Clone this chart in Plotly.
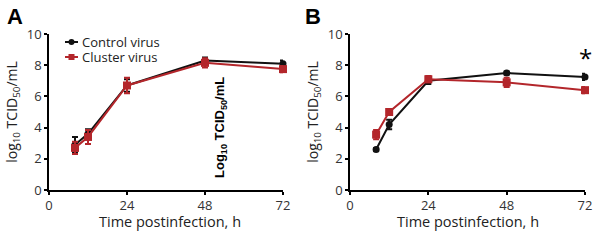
import plotly.graph_objects as go

hours = [8, 12, 24, 48, 72]

a_control = [2.9, 3.6, 6.7, 8.3, 8.1]
a_control_err = [0.5, 0.3, 0.4, 0.2, 0.2]
a_cluster = [2.7, 3.4, 6.7, 8.15, 7.75]
a_cluster_err = [0.4, 0.45, 0.5, 0.3, 0.2]

b_control = [2.6, 4.2, 7.0, 7.5, 7.25]
b_control_err = [0.1, 0.3, 0.2, 0.1, 0.2]
b_cluster = [3.55, 5.0, 7.1, 6.9, 6.4]
b_cluster_err = [0.3, 0.2, 0.2, 0.3, 0.2]

x_ticks = [0, 24, 48, 72]
y_ticks = [0, 2, 4, 6, 8, 10]

series_names = ["Control virus", "Cluster virus"]

BLACK = "#111111"
RED = "#b3262b"
FONT = "Open Sans, Liberation Sans, sans-serif"

fig = go.Figure()

def add(x, y, err, color, symbol, size, name, xa, ya):
    fig.add_trace(go.Scatter(
        x=x, y=y, mode="lines+markers", name=name,
        line=dict(color=color, width=2),
        marker=dict(color=color, symbol=symbol, size=size),
        error_y=dict(type="data", array=err, color=color, thickness=2, width=3),
        xaxis=xa, yaxis=ya, showlegend=False, cliponaxis=False))

add(hours, a_control, a_control_err, BLACK, "circle", 7, series_names[0], "x", "y")
add(hours, a_cluster, a_cluster_err, RED, "square", 8, series_names[1], "x", "y")
add(hours, b_control, b_control_err, BLACK, "circle", 7, series_names[0], "x2", "y2")
add(hours, b_cluster, b_cluster_err, RED, "square", 8, series_names[1], "x2", "y2")

ax_common = dict(showgrid=False, zeroline=False, showline=True, linecolor="black", linewidth=1.5,
                 ticks="outside", ticklen=3, tickwidth=1.5, tickcolor="black", automargin=False,
                 tickfont=dict(size=13, color="#333333", family=FONT))

ytitle = "log<sub>10</sub> TCID<sub>50</sub>/mL"
xtitle = "Time postinfection, h"

L, R, T, B = 49, 15, 34, 50
PW = 600 - L - R
PH = 240 - T - B


def px(xp):
    return (xp - L) / PW


def py(yp):
    return 1 - (yp - T) / PH


fig.update_layout(
    width=600, height=240,
    margin=dict(l=L, r=R, t=T, b=B, autoexpand=False),
    paper_bgcolor="white", plot_bgcolor="white",
    font=dict(family=FONT, color="#222222"),
    xaxis=dict(domain=[0, 234/PW], range=[0, 72], tickvals=x_ticks, anchor="y", **ax_common),
    yaxis=dict(domain=[0, 1], range=[0, 10], tickvals=y_ticks, anchor="x",
               title=dict(text=ytitle, font=dict(size=14, family=FONT), standoff=6), **ax_common),
    xaxis2=dict(domain=[301/PW, 1], range=[0, 72], tickvals=x_ticks, anchor="y2", **ax_common),
    yaxis2=dict(domain=[0, 1], range=[0, 10], tickvals=y_ticks, anchor="x2",
                title=dict(text=ytitle, font=dict(size=14, family=FONT), standoff=6), **ax_common),
)

# x-axis titles
for cx in [(49 + 283) / 2 + 4, (350 + 585) / 2]:
    fig.add_annotation(text=xtitle, x=px(cx), y=py(221), xref="paper", yref="paper",
                       xanchor="center", yanchor="middle",
                       showarrow=False, font=dict(size=14.5, family=FONT, color="#222222"))

# manual compact legend (panel A)
legend_rows = [(42, BLACK, "circle"), (57, RED, "square")]
for (yy, col, sym), name in zip(legend_rows, series_names):
    fig.add_shape(type="line", xref="paper", yref="paper",
                  x0=px(65), x1=px(78), y0=py(yy), y1=py(yy),
                  line=dict(color=col, width=2))
    fig.add_shape(type=sym if sym == "circle" else "rect", xref="paper", yref="paper",
                  x0=px(68.5), x1=px(74.5), y0=py(yy + 3), y1=py(yy - 3),
                  fillcolor=col, line=dict(color=col, width=0))
    fig.add_annotation(text=name, x=px(80), y=py(yy), xref="paper", yref="paper",
                       xanchor="left", yanchor="middle", showarrow=False,
                       font=dict(size=13, family=FONT, color="#222222"))

fig.add_annotation(text="<b>A</b>", x=px(5), y=py(17), xref="paper", yref="paper",
                   xanchor="left", yanchor="middle", showarrow=False,
                   font=dict(size=22, family="Liberation Sans, Arial", color="black"))
fig.add_annotation(text="<b>B</b>", x=px(303), y=py(17), xref="paper", yref="paper",
                   xanchor="left", yanchor="middle", showarrow=False,
                   font=dict(size=22, family="Liberation Sans, Arial", color="black"))
fig.add_annotation(text="<b>Log<sub>10</sub> TCID<sub>50</sub>/mL</b>", x=px(220), y=py(128),
                   xref="paper", yref="paper", textangle=-90, showarrow=False,
                   xanchor="center", yanchor="middle",
                   font=dict(size=13, family="Liberation Sans, Arial", color="black"))
fig.add_annotation(text="*", x=72, y=8.5, xref="x2", yref="y2", showarrow=False,
                   xanchor="center", yanchor="middle",
                   font=dict(size=24, family=FONT, color="black"))

fig.write_html("out.html", config={"displayModeBar": False},
               post_script="document.body.style.margin='0';")
